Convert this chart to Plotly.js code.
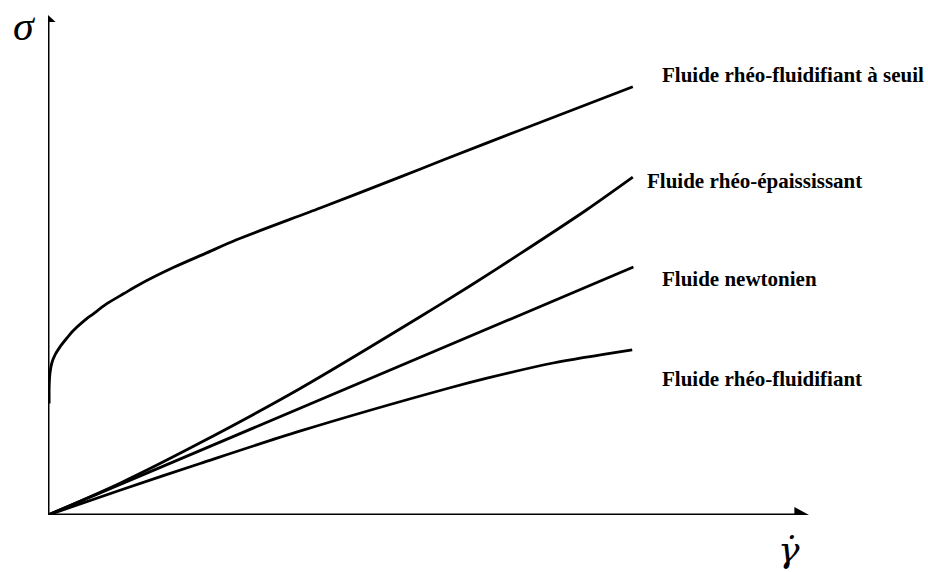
<!DOCTYPE html>
<html>
<head>
<meta charset="utf-8">
<script src="https://cdn.plot.ly/plotly-3.0.1.min.js"></script>
<style>
html,body{margin:0;padding:0;background:#fff;}
#chart{width:928px;height:572px;}
</style>
</head>
<body>
<div id="chart"></div>
<script>
// Shear rate (arbitrary units) and shear stress values
const seuilX = [0.02, 0.02, 0.034, 0.063, 0.12, 0.205, 0.32, 0.43, 0.60, 0.77, 1.00, 1.29, 1.57, 2.14, 2.71, 3.22, 4.65, 6.01, 6.75, 8.06, 9.99];
const seuilY = [2.21, 2.54, 2.81, 3.00, 3.17, 3.33, 3.50, 3.65, 3.83, 3.98, 4.18, 4.38, 4.57, 4.90, 5.19, 5.45, 6.08, 6.69, 7.03, 7.62, 8.48];

const epaisX = [0, 1.23, 2.60, 4.30, 6.35, 7.20, 8.06, 9.21, 9.99];
const epaisY = [0, 0.63, 1.43, 2.50, 3.92, 4.53, 5.17, 6.05, 6.69];

const newtX = [0, 10.0];
const newtY = [0, 4.91];

const fluidX = [0, 1.23, 2.60, 4.30, 6.87, 7.50, 8.63, 9.98];
const fluidY = [0, 0.49, 1.02, 1.66, 2.52, 2.71, 3.01, 3.27];

const labels = [
  "Fluide rhéo-fluidifiant à seuil",
  "Fluide rhéo-épaississant",
  "Fluide newtonien",
  "Fluide rhéo-fluidifiant"
];
const labelX = [10.45, 10.2, 10.45, 10.45];
const labelY = [8.71, 6.61, 4.67, 2.69];

const lineStyle = {color: '#000', width: 2.8, shape: 'spline', smoothing: 0.8};
const traces = [
  {x: seuilX, y: seuilY, mode: 'lines', line: lineStyle, hoverinfo: 'skip'},
  {x: epaisX, y: epaisY, mode: 'lines', line: lineStyle, hoverinfo: 'skip'},
  {x: newtX, y: newtY, mode: 'lines', line: lineStyle, hoverinfo: 'skip'},
  {x: fluidX, y: fluidY, mode: 'lines', line: lineStyle, hoverinfo: 'skip'}
];

const annotations = labels.map((t, i) => ({
  x: labelX[i], y: labelY[i], xref: 'x', yref: 'y',
  text: '<b>' + t + '</b>', showarrow: false, xanchor: 'left', yanchor: 'middle',
  font: {family: 'Liberation Serif, Times New Roman, serif', size: 21, color: '#000'}
}));
annotations.push({
  xref: 'paper', yref: 'paper', x: -0.031, y: 0.968, text: '<i>σ</i>', showarrow: false,
  xanchor: 'center', yanchor: 'middle',
  font: {family: 'Liberation Serif, Times New Roman, serif', size: 42, color: '#000'}
});
annotations.push({
  xref: 'x', yref: 'paper', x: 12.65, y: -0.068, text: '<i>γ̇</i>', showarrow: false,
  xanchor: 'center', yanchor: 'middle',
  font: {family: 'DejaVu Serif, Liberation Serif, serif', size: 36, color: '#000'}
});

const shapes = [
  {type: 'line', xref: 'x', yref: 'y', x0: 0, y0: 0, x1: 0, y1: 9.8, line: {color: '#000', width: 3}},
  {type: 'line', xref: 'x', yref: 'y', x0: 0, y0: 0, x1: 12.8, y1: 0, line: {color: '#000', width: 3}},
  {type: 'path', xref: 'x', yref: 'y', path: 'M -0.13 9.76 L 0.13 9.76 L 0 9.9 Z', fillcolor: '#000', line: {width: 0}},
  {type: 'path', xref: 'x', yref: 'y', path: 'M 12.75 -0.16 L 12.75 0.16 L 13 0 Z', fillcolor: '#000', line: {width: 0}}
];

const layout = {
  width: 928, height: 572,
  margin: {l: 48, r: 119, t: 10, b: 57},
  paper_bgcolor: '#fff', plot_bgcolor: '#fff',
  showlegend: false,
  xaxis: {range: [0, 13], showgrid: false, zeroline: false, showticklabels: false, ticks: '', showline: false, fixedrange: true},
  yaxis: {range: [0, 10], showgrid: false, zeroline: false, showticklabels: false, ticks: '', showline: false, fixedrange: true},
  annotations: annotations,
  shapes: shapes
};

Plotly.newPlot('chart', traces, layout, {displayModeBar: false, staticPlot: true});
</script>
</body>
</html>
